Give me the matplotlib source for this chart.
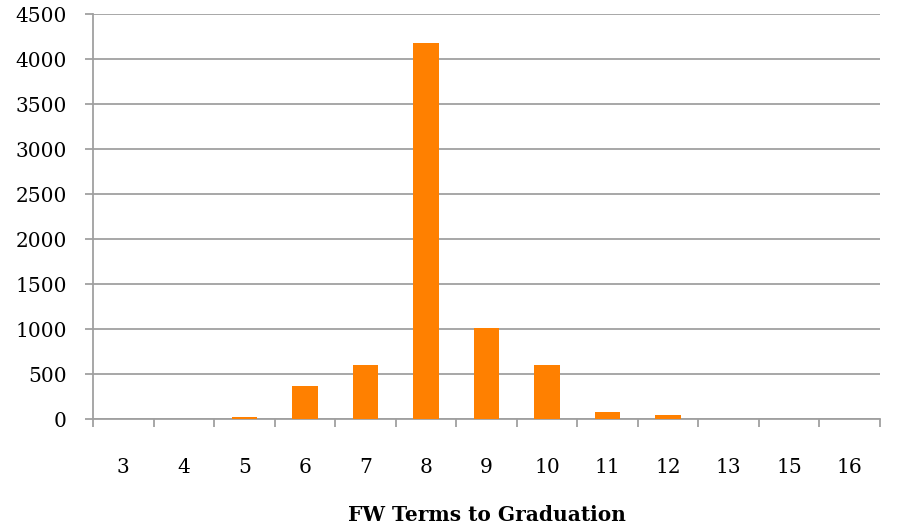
import matplotlib
matplotlib.use("Agg")
import matplotlib.pyplot as plt
import numpy as np

terms = ["3", "4", "5", "6", "7", "8", "9", "10", "11", "12", "13", "15", "16"]
students = [2, 3, 25, 365, 600, 4180, 1010, 595, 75, 40, 2, 2, 1]

bar_color = "#FF8000"
grid_color = "#A0A0A0"

plt.rcParams['font.family'] = ['DejaVu Serif']

fig = plt.figure(figsize=(9.02, 5.29), dpi=100)
ax = fig.add_axes([0.1031, 0.2079, 0.8725, 0.7656])

pos = np.arange(len(terms))
ax.bar(pos, students, width=0.42, color=bar_color, zorder=3)

ax.set_xlim(-0.5, len(terms) - 0.5)
ax.set_ylim(0, 4500)
ax.set_yticks(np.arange(0, 4501, 500))
ax.yaxis.grid(True, color=grid_color, linewidth=1.3, zorder=0)

# category labels centred under bars, tick marks between categories
ax.set_xticks(pos)
ax.set_xticklabels(terms, fontsize=14.5)
ax.set_xticks(np.arange(-0.5, len(terms)), minor=True)
ax.tick_params(axis="x", which="major", length=0, pad=28)
ax.tick_params(axis="x", which="minor", length=6, width=1.3, color=grid_color)
ax.tick_params(axis="y", length=6, width=1.3, color=grid_color, labelsize=14.5, pad=13)

for s in ["top", "right"]:
    ax.spines[s].set_visible(False)
for s in ["left", "bottom"]:
    ax.spines[s].set_color(grid_color)
    ax.spines[s].set_linewidth(1.3)

ax.set_xlabel("FW Terms to Graduation", fontsize=14.5, fontweight="bold", labelpad=20)

fig.savefig("out.png", dpi=100)
